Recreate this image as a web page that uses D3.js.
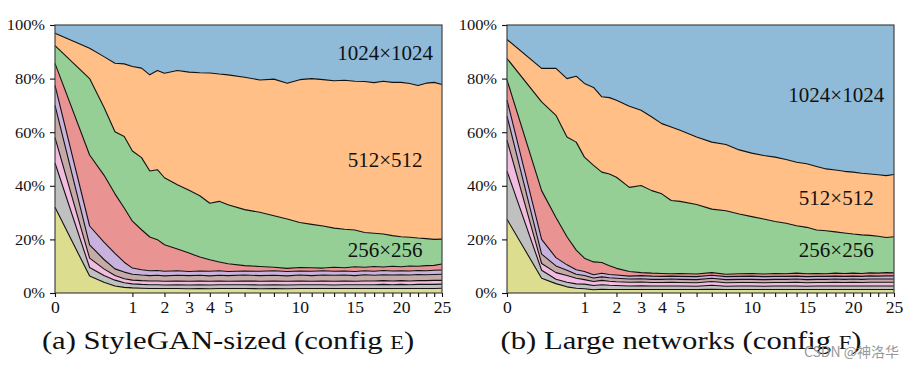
<!DOCTYPE html>
<html>
<head>
<meta charset="utf-8">
<script src="https://cdn.jsdelivr.net/npm/d3@7"></script>
<style>
  body { margin: 0; background: #fff; }
  svg text { font-family: "Liberation Serif", "DejaVu Serif", serif; fill: #111; }
</style>
</head>
<body>
<svg id="chart" width="914" height="368"></svg>
<script>
// training progress (millions of images), sqrt-scaled axis
var xValues = [ 0, 0.2, 0.4, 0.6, 0.8, 1, 1.25, 1.5, 1.75, 2, 2.5, 3, 3.5, 4, 4.5, 5,
  6, 7, 8, 9, 10, 11, 12, 13, 14, 15, 16, 17, 18, 19, 20, 21, 22, 23, 24, 25 ];

var resolutions = [ "4×4", "8×8", "16×16", "32×32", "64×64", "128×128", "256×256", "512×512", "1024×1024" ];
var layerColors = [ "#dddd90", "#c0c0c0", "#f2bbe0", "#c6aaa5", "#c9b3de", "#ea9393", "#95cf95", "#ffbf86", "#8fbbd9" ];

var xTickLabels = [ 0, 1, 2, 3, 4, 5, 10, 15, 20, 25 ];
var yTickValues = [ 0, 20, 40, 60, 80, 100 ];

// cumulative share (%) up to and including each resolution -- config E
var topE4 = [ 32.0, 6.3, 4.0, 2.6, 2.1, 1.9, 1.8, 1.7, 1.7, 1.7, 1.7, 1.6, 1.7, 1.6, 1.7, 1.7, 1.7, 1.6,
  1.7, 1.6, 1.7, 1.7, 1.7, 1.7, 1.7, 1.7, 1.7, 1.7, 1.7, 1.7, 1.7, 1.7, 1.7, 1.7, 1.7, 1.8 ];
var topE8 = [ 48.5, 9.5, 6.5, 4.8, 3.8, 3.4, 3.2, 3.1, 3.1, 3.0, 3.1, 3.0, 3.1, 3.0, 3.1, 3.1, 3.1, 3.0,
  3.1, 3.0, 3.1, 3.1, 3.1, 3.0, 3.1, 3.1, 3.1, 3.1, 3.2, 3.1, 3.2, 3.1, 3.2, 3.2, 3.2, 3.3 ];
var topE16 = [ 58.0, 13.0, 9.0, 6.5, 5.3, 4.8, 4.6, 4.5, 4.5, 4.4, 4.5, 4.4, 4.5, 4.4, 4.5, 4.4, 4.5, 4.4,
  4.5, 4.4, 4.5, 4.4, 4.5, 4.4, 4.5, 4.4, 4.5, 4.5, 4.6, 4.5, 4.6, 4.5, 4.6, 4.6, 4.7, 4.7 ];
var topE32 = [ 70.0, 18.0, 12.5, 9.0, 7.8, 7.0, 6.7, 6.5, 6.6, 6.4, 6.6, 6.5, 6.6, 6.4, 6.6, 6.5, 6.7, 6.5,
  6.6, 6.4, 6.7, 6.5, 6.7, 6.6, 6.7, 6.5, 6.8, 6.6, 6.8, 6.7, 6.8, 6.7, 6.9, 6.8, 6.9, 7.0 ];
var topE64 = [ 77.5, 25.0, 19.0, 14.8, 11.5, 9.3, 8.7, 8.3, 8.4, 8.1, 8.3, 8.0, 8.2, 8.1, 8.3, 8.0, 8.2, 8.1,
  8.3, 8.0, 8.2, 8.1, 8.3, 8.1, 8.2, 8.0, 8.3, 8.1, 8.4, 8.2, 8.3, 8.2, 8.4, 8.3, 8.5, 8.6 ];
var topE128 = [ 85.7, 51.5, 44.0, 37.0, 31.7, 26.8, 23.6, 20.9, 19.9, 18.0, 16.4, 14.9, 13.4, 12.4, 11.6, 10.9, 10.2, 9.9,
  9.6, 9.2, 9.5, 9.4, 9.3, 9.6, 9.4, 9.8, 9.6, 9.9, 9.7, 10.0, 9.8, 10.1, 10.0, 10.2, 10.3, 10.8 ];
var topE256 = [ 92.3, 80.0, 69.3, 60.2, 58.4, 53.0, 50.5, 45.5, 46.0, 43.0, 40.4, 38.3, 36.3, 33.5, 34.2, 32.9, 31.1, 30.1,
  28.8, 27.6, 26.3, 25.6, 25.0, 24.2, 23.8, 23.5, 22.6, 22.3, 22.0, 21.4, 21.0, 20.8, 20.5, 20.3, 20.0, 20.1 ];
var topE512 = [ 96.9, 91.3, 88.2, 85.7, 85.5, 84.5, 83.9, 81.4, 83.0, 82.0, 83.0, 82.4, 82.2, 82.1, 81.7, 81.4, 80.5, 79.5,
  79.8, 78.3, 79.6, 80.0, 79.6, 79.2, 79.4, 79.0, 78.9, 78.5, 79.0, 78.6, 78.6, 78.2, 77.4, 78.3, 78.6, 77.8 ];

// config F
var topF4 = [ 27.5, 5.5, 3.5, 2.3, 1.8, 1.6, 1.2, 1.4, 1.3, 1.3, 1.3, 1.3, 1.3, 1.3, 1.3, 1.3, 1.3, 1.4,
  1.3, 1.3, 1.3, 1.3, 1.3, 1.3, 1.3, 1.3, 1.3, 1.3, 1.3, 1.3, 1.3, 1.3, 1.3, 1.3, 1.3, 1.3 ];
var topF8 = [ 45.5, 8.5, 5.1, 4.0, 3.4, 3.3, 2.8, 3.1, 2.9, 2.8, 2.6, 2.7, 2.6, 2.6, 2.6, 2.6, 2.5, 2.9,
  2.5, 2.6, 2.6, 2.5, 2.6, 2.6, 2.6, 2.5, 2.6, 2.6, 2.6, 2.6, 2.6, 2.6, 2.6, 2.6, 2.6, 2.6 ];
var topF16 = [ 57.0, 11.0, 7.6, 6.5, 5.5, 5.0, 4.3, 4.7, 4.4, 4.2, 4.0, 4.1, 3.9, 3.9, 4.0, 3.9, 3.8, 4.3,
  3.8, 3.9, 3.9, 3.8, 3.9, 3.9, 4.0, 3.8, 3.9, 3.9, 4.0, 3.9, 4.0, 3.9, 4.0, 4.0, 4.0, 4.0 ];
var topF32 = [ 66.0, 14.5, 10.1, 8.5, 7.0, 6.5, 5.6, 6.0, 5.7, 5.5, 5.2, 5.3, 5.1, 5.1, 5.2, 5.1, 5.0, 5.5,
  5.0, 5.1, 5.1, 5.0, 5.1, 5.1, 5.2, 5.0, 5.1, 5.1, 5.2, 5.1, 5.2, 5.1, 5.2, 5.2, 5.2, 5.2 ];
var topF64 = [ 72.0, 20.0, 13.2, 10.5, 8.7, 8.0, 6.8, 7.4, 6.9, 6.7, 6.3, 6.5, 6.3, 6.2, 6.3, 6.2, 6.1, 6.6,
  6.1, 6.2, 6.3, 6.1, 6.2, 6.2, 6.3, 6.1, 6.2, 6.2, 6.3, 6.2, 6.3, 6.2, 6.4, 6.3, 6.4, 6.4 ];
var topF128 = [ 79.5, 38.2, 28.2, 21.0, 16.0, 13.0, 11.6, 11.4, 10.2, 9.2, 8.0, 7.6, 7.4, 7.3, 7.2, 7.3, 7.1, 7.6,
  7.0, 7.2, 7.3, 7.1, 7.3, 7.2, 7.4, 7.2, 7.3, 7.2, 7.4, 7.3, 7.4, 7.3, 7.5, 7.4, 7.6, 7.5 ];
var topF256 = [ 87.5, 71.3, 66.3, 58.2, 56.3, 50.7, 47.6, 45.1, 44.4, 43.2, 39.4, 40.1, 38.2, 37.0, 34.5, 34.2, 33.0, 31.3,
  30.7, 29.5, 28.5, 27.6, 26.7, 26.0, 25.1, 24.5, 23.5, 23.2, 22.8, 22.4, 22.0, 21.7, 21.5, 21.2, 20.7, 21.0 ];
var topF512 = [ 94.6, 83.8, 83.8, 80.0, 80.9, 78.2, 76.7, 73.2, 72.9, 71.9, 69.7, 68.2, 65.7, 63.2, 61.9, 60.7, 58.2, 56.3,
  55.4, 53.4, 52.2, 51.3, 50.7, 49.8, 48.8, 48.2, 47.2, 46.3, 45.9, 45.4, 45.1, 44.7, 44.4, 44.1, 43.8, 44.2 ];

var svg = d3.select( "#chart" );

function drawPanel( opts ){
  var x = d3.scaleSqrt().domain( [ 0, 25 ] ).range( [ opts.left, opts.right ] );
  var y = d3.scaleLinear().domain( [ 0, 100 ] ).range( [ opts.bottom, opts.top ] );

  var zeros = xValues.map( function(){ return 0; } );
  var full = xValues.map( function(){ return 100; } );
  var bounds = [ zeros ].concat( opts.tops ).concat( [ full ] );

  var g = svg.append( "g" );

  for( var i = 0 ; i < resolutions.length ; i++ ){
    var lower = bounds[ i ], upper = bounds[ i + 1 ];
    var area = d3.area()
      .x( function( d, j ){ return x( xValues[ j ] ); } )
      .y0( function( d, j ){ return y( lower[ j ] ); } )
      .y1( function( d, j ){ return y( upper[ j ] ); } );
    g.append( "path" )
      .datum( xValues )
      .attr( "fill", layerColors[ i ] )
      .attr( "d", area );
  }

  opts.tops.forEach( function( top ){
    var line = d3.line()
      .x( function( d, j ){ return x( xValues[ j ] ); } )
      .y( function( d, j ){ return y( top[ j ] ); } );
    g.append( "path" )
      .datum( xValues )
      .attr( "fill", "none" )
      .attr( "stroke", "#111" )
      .attr( "stroke-width", 1.1 )
      .attr( "stroke-linejoin", "round" )
      .attr( "d", line );
  } );

  // frame
  g.append( "rect" )
    .attr( "x", opts.left )
    .attr( "y", opts.top )
    .attr( "width", opts.right - opts.left )
    .attr( "height", opts.bottom - opts.top )
    .attr( "fill", "none" )
    .attr( "stroke", "#444" )
    .attr( "stroke-width", 1.2 );

  var xAxis = d3.axisBottom( x )
    .tickValues( d3.range( 0, 26 ) )
    .tickFormat( function( d ){ return xTickLabels.indexOf( d ) >= 0 ? d : ""; } )
    .tickSize( 4 )
    .tickSizeOuter( 0 )
    .tickPadding( 5 );

  var gx = g.append( "g" )
    .attr( "transform", "translate(0," + opts.bottom + ")" )
    .call( xAxis );
  gx.select( ".domain" ).remove();
  gx.selectAll( "line" ).attr( "stroke", "#111" ).attr( "stroke-width", 1.1 );
  gx.selectAll( "text" )
    .style( "font-size", "16px" )
    .attr( "fill", "#111" )
    .attr( "transform", "scale(1.1,1)" );

  var yAxis = d3.axisLeft( y )
    .tickValues( yTickValues )
    .tickFormat( function( d ){ return d + "%"; } )
    .tickSize( 5 )
    .tickPadding( 4 );

  var gy = g.append( "g" )
    .attr( "transform", "translate(" + opts.left + ",0)" )
    .call( yAxis );
  gy.select( ".domain" ).remove();
  gy.selectAll( "line" ).attr( "stroke", "#111" ).attr( "stroke-width", 1.1 );
  gy.selectAll( "text" )
    .style( "font-size", "15px" )
    .attr( "fill", "#111" )
    .attr( "transform", "scale(1.1,1)" );

  // resolution labels inside the plot
  opts.labels.forEach( function( lab ){
    g.append( "text" )
      .attr( "x", x( lab.x ) )
      .attr( "y", y( lab.y ) )
      .attr( "text-anchor", "middle" )
      .style( "font-size", "21px" )
      .text( lab.text );
  } );

  var title = g.append( "text" )
    .attr( "transform", "translate(" + opts.titleX + ",349) scale(1.18,1)" )
    .attr( "text-anchor", "middle" )
    .style( "font-size", "26px" );
  title.append( "tspan" ).text( opts.title );
  title.append( "tspan" ).style( "font-size", "19px" ).text( opts.config );
  title.append( "tspan" ).text( ")" );
}

drawPanel( {
  left: 55, right: 442, top: 25, bottom: 293,
  tops: [ topE4, topE8, topE16, topE32, topE64, topE128, topE256, topE512 ],
  labels: [
    { text: "1024×1024", x: 18.2, y: 87 },
    { text: "512×512", x: 18.2, y: 47 },
    { text: "256×256", x: 18.2, y: 13.4 }
  ],
  title: "(a) StyleGAN-sized (config ",
  config: "E",
  titleX: 228
} );

drawPanel( {
  left: 507, right: 894, top: 25, bottom: 293,
  tops: [ topF4, topF8, topF16, topF32, topF64, topF128, topF256, topF512 ],
  labels: [
    { text: "1024×1024", x: 18.1, y: 71.2 },
    { text: "512×512", x: 18.1, y: 32.8 },
    { text: "256×256", x: 18.1, y: 13.4 }
  ],
  title: "(b) Large networks (config ",
  config: "F",
  titleX: 681
} );

// page watermark
svg.append( "text" )
  .attr( "x", 899 )
  .attr( "y", 357 )
  .attr( "text-anchor", "end" )
  .style( "font-family", "'Noto Sans CJK SC', 'Noto Sans', sans-serif" )
  .style( "font-size", "14px" )
  .style( "fill", "#9a9a9a" )
  .text( "CSDN @神洛华" );
</script>
</body>
</html>
